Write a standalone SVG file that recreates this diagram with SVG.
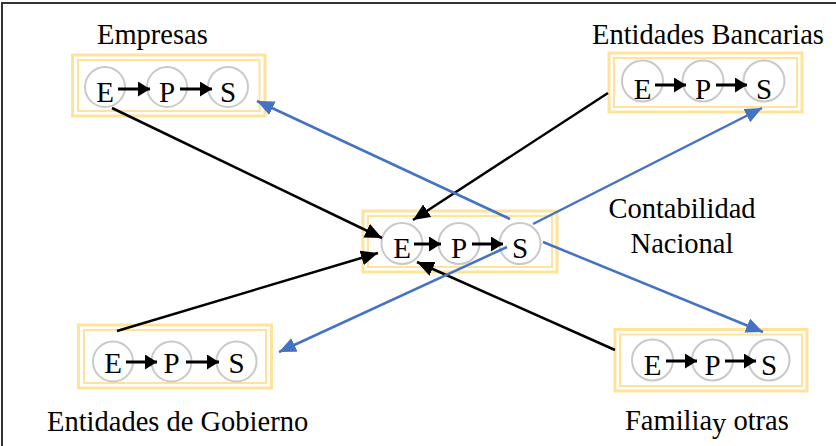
<svg xmlns="http://www.w3.org/2000/svg" width="836" height="446" viewBox="0 0 836 446">
<style>
.outer{fill:none;stroke:#FFE39A;stroke-width:3}
.inner{fill:none;stroke:#FFE39A;stroke-width:2}
.c{fill:#fff;stroke:#c9c9c9;stroke-width:2}
.l{font-family:"Liberation Serif","Times New Roman",serif;font-size:29px;fill:#000;text-anchor:middle}
.t{font-family:"Liberation Serif","Times New Roman",serif;font-size:28.5px;fill:#000}
.sa{stroke:#000;stroke-width:3;fill:none;marker-end:url(#sm)}
.k{stroke:#000;stroke-width:2.5;fill:none;marker-end:url(#ak)}
.b{stroke:#4472C4;stroke-width:2.5;fill:none;marker-end:url(#ab)}
</style>
<defs>
<marker id="sm" markerUnits="userSpaceOnUse" markerWidth="14" markerHeight="16" refX="12" refY="7.5" orient="auto"><path d="M0,0 L12,7.5 L0,15 z" fill="#000"/></marker>
<marker id="ak" markerUnits="userSpaceOnUse" markerWidth="18" markerHeight="16" refX="17" refY="7.5" orient="auto"><path d="M0,0 L17,7.5 L0,15 z" fill="#000"/></marker>
<marker id="ab" markerUnits="userSpaceOnUse" markerWidth="18" markerHeight="16" refX="17" refY="7.5" orient="auto"><path d="M0,0 L17,7.5 L0,15 z" fill="#4472C4"/></marker>
</defs>
<rect width="836" height="446" fill="#fff"/>
<path d="M2,446 V3 H836" fill="none" stroke="#333" stroke-width="2"/>

<g id="empresas">
<rect class="outer" x="72.5" y="55" width="192.5" height="61"/>
<rect class="inner" x="78" y="60" width="181.5" height="51"/>
<circle class="c" cx="105" cy="87" r="20"/>
<circle class="c" cx="167" cy="87" r="20"/>
<circle class="c" cx="228" cy="87" r="20"/>
<text class="l" x="105" y="101.5">E</text>
<text class="l" x="167" y="101.5">P</text>
<text class="l" x="228" y="101.5">S</text>
<line class="sa" x1="118" y1="89" x2="150" y2="89"/>
<line class="sa" x1="180" y1="89" x2="212" y2="89"/>
<text class="t" x="97" y="44">Empresas</text>
</g>

<g id="bancarias">
<rect class="outer" x="609" y="53" width="193" height="59"/>
<rect class="inner" x="614" y="58" width="183" height="49"/>
<circle class="c" cx="642.5" cy="81" r="20.5"/>
<circle class="c" cx="703" cy="81" r="20.5"/>
<circle class="c" cx="764" cy="81" r="20.5"/>
<text class="l" x="642.5" y="98.5">E</text>
<text class="l" x="703" y="98.5">P</text>
<text class="l" x="764" y="98.5">S</text>
<line class="sa" x1="655" y1="85" x2="686" y2="85"/>
<line class="sa" x1="716" y1="85" x2="747" y2="85"/>
<text class="t" x="592" y="44">Entidades Bancarias</text>
</g>

<g id="nacional">
<rect class="outer" x="363" y="211" width="194" height="61"/>
<rect class="inner" x="368" y="216" width="184" height="51"/>
<circle class="c" cx="402" cy="243.5" r="20.5"/>
<circle class="c" cx="459" cy="243.5" r="20.5"/>
<circle class="c" cx="520" cy="243.5" r="20.5"/>
<text class="l" x="402" y="258">E</text>
<text class="l" x="459" y="258">P</text>
<text class="l" x="520" y="258">S</text>
<line class="sa" x1="414" y1="244" x2="441" y2="244"/>
<line class="sa" x1="472" y1="244" x2="503" y2="244"/>
<text class="t" x="682" y="218" text-anchor="middle" font-size="28px">Contabilidad</text>
<text class="t" x="682" y="253" text-anchor="middle" font-size="28px">Nacional</text>
</g>

<g id="gobierno">
<rect class="outer" x="78.5" y="325" width="193" height="63"/>
<rect class="inner" x="84" y="330" width="182" height="53"/>
<circle class="c" cx="113" cy="361.5" r="20"/>
<circle class="c" cx="171.5" cy="361.5" r="20"/>
<circle class="c" cx="236.5" cy="361.5" r="20"/>
<text class="l" x="113" y="372.5">E</text>
<text class="l" x="171.5" y="372.5">P</text>
<text class="l" x="236.5" y="372.5">S</text>
<line class="sa" x1="126" y1="362" x2="157" y2="362"/>
<line class="sa" x1="186" y1="362" x2="219" y2="362"/>
<text class="t" x="47" y="431">Entidades de Gobierno</text>
</g>

<g id="familias">
<rect class="outer" x="615" y="329.5" width="192" height="61.5"/>
<rect class="inner" x="620" y="334.5" width="182" height="51.5"/>
<circle class="c" cx="652.5" cy="360" r="20.5"/>
<circle class="c" cx="712.5" cy="360" r="20.5"/>
<circle class="c" cx="769" cy="360" r="20.5"/>
<text class="l" x="652.5" y="374.5">E</text>
<text class="l" x="712.5" y="374.5">P</text>
<text class="l" x="769" y="374.5">S</text>
<line class="sa" x1="666" y1="361" x2="697" y2="361"/>
<line class="sa" x1="725" y1="361" x2="756" y2="361"/>
<text class="t" x="625" y="430" font-size="28px">Familia<tspan dy="3">y</tspan><tspan dy="-3"> otras</tspan></text>
</g>

<g id="connectors">
<line class="k" x1="112" y1="108" x2="382" y2="238"/>
<line class="k" x1="608" y1="93" x2="413" y2="220"/>
<line class="k" x1="117" y1="331" x2="378" y2="253"/>
<line class="k" x1="615" y1="350" x2="417" y2="262"/>
<line class="b" x1="510" y1="219" x2="257" y2="101"/>
<line class="b" x1="533" y1="224" x2="762" y2="108"/>
<line class="b" x1="507" y1="247" x2="279" y2="352"/>
<line class="b" x1="543" y1="242" x2="763" y2="332"/>
</g>
</svg>
